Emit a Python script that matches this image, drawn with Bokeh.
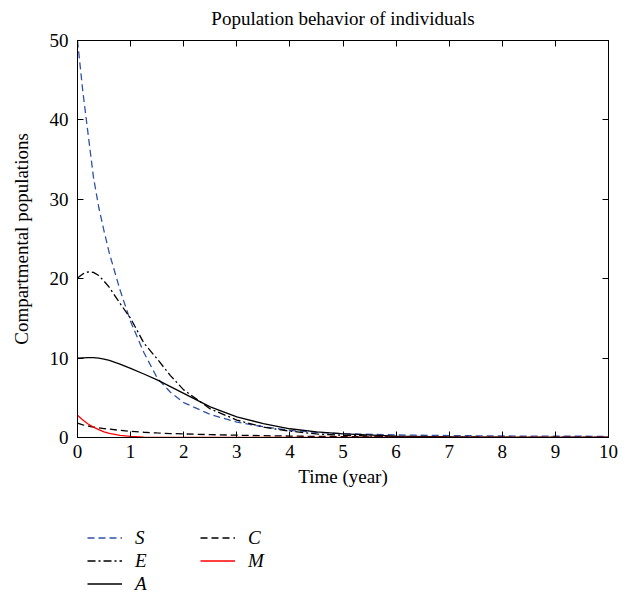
from bokeh.plotting import figure
from bokeh.models import Range1d, LinearAxis, FixedTicker, Legend, LegendItem, Label
from bokeh.layouts import column
from bokeh.embed import file_html
from bokeh.resources import INLINE

# ---- data ----
t = [0, 0.1, 0.2, 0.3, 0.4, 0.5, 0.6, 0.8, 1.0, 1.25, 1.5, 1.75, 2.0, 2.5, 3.0, 3.5, 4.0, 4.5, 5.0, 6, 7, 8, 9, 10]
S = [50, 43.6, 38.2, 32.8, 29.0, 26.0, 23.2, 18.6, 14.6, 10.7, 7.5, 5.7, 4.4, 2.9, 1.95, 1.35, 0.9, 0.65, 0.48, 0.32, 0.24, 0.19, 0.16, 0.15]
E = [20.1, 20.6, 20.85, 20.8, 20.4, 19.7, 18.9, 16.9, 15.0, 11.9, 9.9, 7.8, 6.0, 3.6, 2.2, 1.3, 0.8, 0.45, 0.27, 0.1, 0.04, 0.015, 0.005, 0]
A = [10, 10.03, 10.05, 10.05, 10.0, 9.88, 9.7, 9.25, 8.7, 8.0, 7.25, 6.4, 5.55, 3.85, 2.6, 1.75, 1.1, 0.7, 0.45, 0.18, 0.07, 0.03, 0.01, 0]
C = [1.8, 1.6, 1.45, 1.32, 1.22, 1.13, 1.05, 0.9, 0.78, 0.66, 0.57, 0.5, 0.45, 0.36, 0.29, 0.23, 0.18, 0.14, 0.11, 0.07, 0.04, 0.02, 0.01, 0.01]
M = [2.8, 2.2, 1.7, 1.3, 1.0, 0.72, 0.52, 0.28, 0.13, 0.05, 0.02, 0.01, 0, 0, 0, 0, 0, 0, 0, 0, 0, 0, 0, 0]

series_names = ["S", "E", "A", "C", "M"]
legend_order = ["S", "C", "E", "M", "A"]   # row-major in 2 columns: (S,C) (E,M) (A)
x_ticks = [0, 1, 2, 3, 4, 5, 6, 7, 8, 9, 10]
y_ticks = [0, 10, 20, 30, 40, 50]
title_text = "Population behavior of individuals"

FONT = "Liberation Serif"
FS = "19px"

styles = {
    "S": dict(line_color="#2f52a8", line_dash="7 4"),
    "E": dict(line_color="black", line_dash="8 3 2 3"),
    "A": dict(line_color="black", line_dash="solid"),
    "C": dict(line_color="black", line_dash="7 4"),
    "M": dict(line_color="#ff0000", line_dash="solid"),
}
data = {"S": S, "E": E, "A": A, "C": C, "M": M}
lw = 1.3

def blank_panel(height):
    f = figure(width=630, height=height, output_backend="svg", toolbar_location=None,
               x_axis_type=None, y_axis_type=None, min_border=0,
               x_range=Range1d(0, 10), y_range=Range1d(0, height))
    f.outline_line_color = None
    f.xgrid.visible = False
    f.ygrid.visible = False
    f.border_fill_color = "white"
    f.background_fill_color = "white"
    return f

# ---- title strip ----
tfig = blank_panel(30)
tfig.add_layout(Label(x=5, y=12, text=title_text, text_align="center", text_baseline="middle",
                      text_font=FONT, text_font_size=FS, text_color="black"))

# ---- main chart ----
p = figure(width=630, height=470, output_backend="svg", toolbar_location=None,
           x_range=Range1d(0, 10), y_range=Range1d(0, 50),
           min_border_left=77, min_border_right=22, min_border_top=10, min_border_bottom=63)
p.xgrid.visible = False
p.ygrid.visible = False
p.outline_line_color = "black"
p.outline_line_alpha = 1
p.background_fill_color = "white"
p.border_fill_color = "white"

def style_axis(ax, ticks, labels=True):
    ax.ticker = FixedTicker(ticks=ticks)
    ax.major_tick_in = 6
    ax.major_tick_out = 0
    ax.minor_tick_in = 0
    ax.minor_tick_out = 0
    ax.axis_line_color = "black"
    ax.major_tick_line_color = "black"
    ax.major_label_text_font = FONT
    ax.major_label_text_color = "black"
    if labels:
        ax.major_label_text_font_size = FS
    else:
        ax.major_label_text_font_size = "1px"
        ax.major_label_text_alpha = 0
        ax.major_label_standoff = 0

style_axis(p.xaxis[0], x_ticks)
style_axis(p.yaxis[0], y_ticks)
p.xaxis[0].major_label_standoff = 7
p.yaxis[0].major_label_standoff = 9
p.xaxis.axis_label = "Time (year)"
p.yaxis.axis_label = "Compartmental populations"
for ax in (p.xaxis[0], p.yaxis[0]):
    ax.axis_label_text_font = FONT
    ax.axis_label_text_font_size = FS
    ax.axis_label_text_font_style = "normal"
    ax.axis_label_text_color = "black"
p.xaxis[0].axis_label_standoff = 5
p.yaxis[0].axis_label_standoff = 15

top = LinearAxis()
style_axis(top, x_ticks, labels=False)
p.add_layout(top, "above")
right = LinearAxis()
style_axis(right, y_ticks, labels=False)
p.add_layout(right, "right")

for name in series_names:
    p.line(t, data[name], line_width=lw, **styles[name])

# ---- legend strip (same series, drawn outside this panel's visible range) ----
leg = blank_panel(96)
leg.x_range = Range1d(-3, -2)
leg.y_range = Range1d(-3, -2)
rend = {name: leg.line(t, data[name], line_width=lw, **styles[name]) for name in series_names}

legend = Legend(items=[LegendItem(label=n, renderers=[rend[n]]) for n in legend_order],
                ncols=2, orientation="horizontal",
                location=(10, 1), margin=0, padding=0, spacing=0,
                glyph_width=35, glyph_height=23, label_height=23, label_width=65,
                label_standoff=13, border_line_color=None, background_fill_alpha=0,
                label_text_font=FONT, label_text_font_size=FS,
                label_text_font_style="italic", label_text_color="black")
leg.add_layout(legend, "center")

open("out.html", "w").write(file_html(column(tfig, p, leg, spacing=0), INLINE))
